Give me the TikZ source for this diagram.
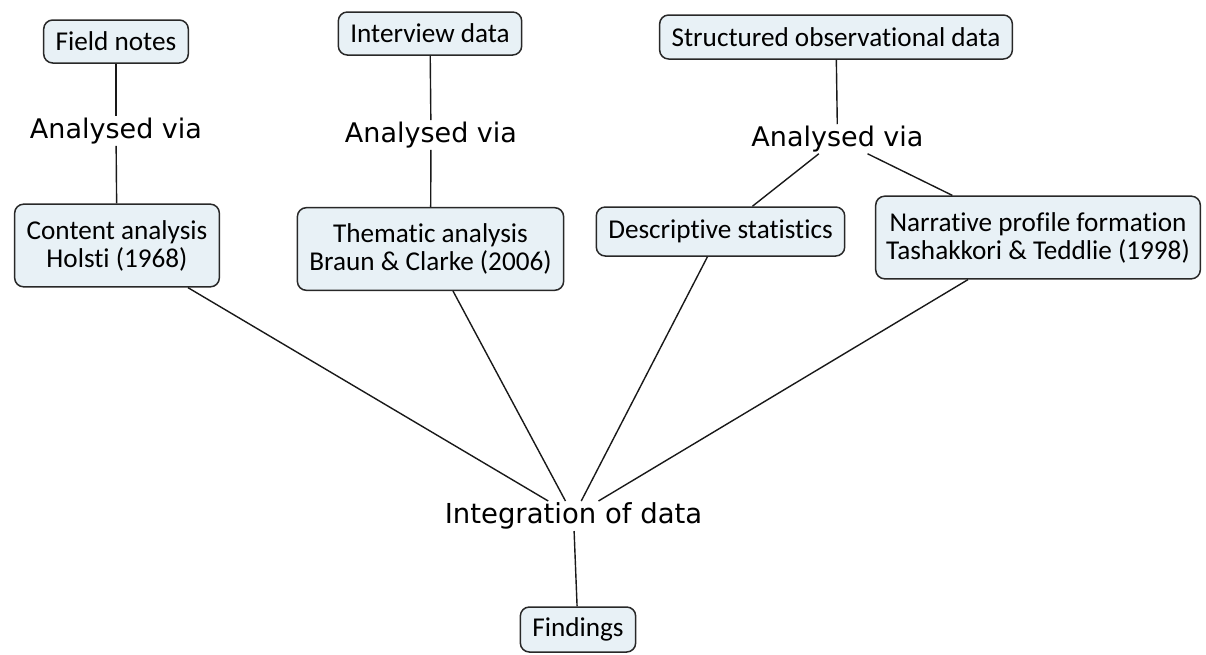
\documentclass[tikz,border=0pt]{standalone}
\usepackage{fontspec}
\setmainfont{Carlito}[Ligatures=NoCommon]
\newfontfamily\linkfont{DejaVu Sans}
\definecolor{boxfill}{RGB}{232,241,246}
\definecolor{boxline}{RGB}{40,40,40}
\definecolor{linkline}{RGB}{25,25,25}
\begin{document}
\begin{tikzpicture}[x=1pt,y=-1pt,
  databox/.style={draw=boxline, line width=1.5pt, fill=boxfill, rounded corners=9pt,
    inner xsep=12pt, inner ysep=4pt, minimum height=43pt, align=center,
    font=\fontsize{27.2}{28}\selectfont},
  twoline/.style={inner ysep=16pt, minimum height=82pt},
  linkword/.style={inner sep=1.5pt, font=\linkfont\fontsize{27}{30}\selectfont},
  link/.style={draw=linkline, line width=1.4pt}]
\useasboundingbox (0,0) rectangle (1206,654);

% sources
\node[databox] (fn) at (116,41.5) {Field notes};
\node[databox] (iv) at (430,33.5) {Interview data};
\node[databox, minimum height=44pt] (so) at (836,37) {Structured observational data};

% "Analysed via" links
\node[linkword] (av1) at (116,131) {Analysed via};
\node[linkword] (av2) at (431,135) {Analysed via};
\node[linkword] (av3) at (837.5,139) {Analysed via};

% analysis methods
\node[databox, twoline] (ca) at (117,245.5) {Content analysis\\Holsti (1968)};
\node[databox, twoline] (ta) at (430.5,249) {Thematic analysis\\Braun \& Clarke (2006)};
\node[databox, minimum height=49pt] (ds) at (720.5,231.5) {Descriptive statistics};
\node[databox, twoline, minimum height=81pt, inner xsep=10.5pt] (np) at (1038,237.5) {Narrative profile formation\\Tashakkori \& Teddlie (1998)};

% integration and result
\node[linkword, font=\linkfont\fontsize{27.5}{30}\selectfont] (ig) at (573.5,516) {Integration of data};
\node[databox, minimum height=45pt] (fd) at (578,629.5) {Findings};

% connectors
\draw[link] (fn) -- (av1);
\draw[link] (av1) -- (ca);
\draw[link] (iv) -- (av2);
\draw[link] (av2) -- (ta);
\draw[link] (so) -- (av3);
\draw[link] (av3) -- (ds);
\draw[link] (av3) -- (np);
\draw[link] (ca) -- (ig);
\draw[link] (ta) -- (ig);
\draw[link] (ds) -- (ig);
\draw[link] (np) -- (ig);
\draw[link] (ig) -- (fd);
\end{tikzpicture}
\end{document}
